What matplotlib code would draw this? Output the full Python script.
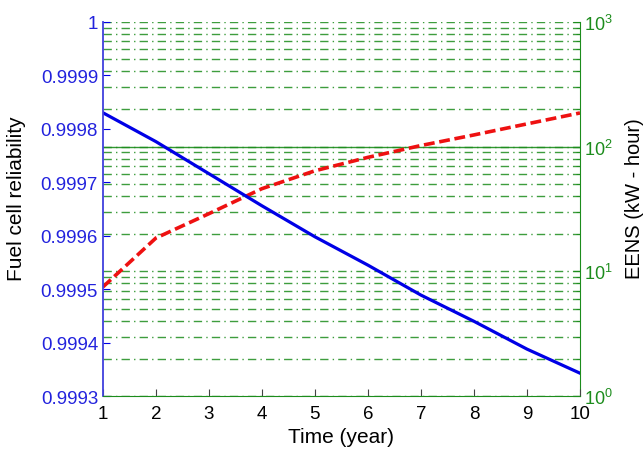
import numpy as np
import matplotlib
matplotlib.use("Agg")
import matplotlib.pyplot as plt
from matplotlib.ticker import FixedLocator, FuncFormatter, LogLocator

plt.rcParams['font.family'] = ['Liberation Sans', 'DejaVu Sans']

# data
years = [1, 2, 3, 4, 5, 6, 7, 8, 9, 10]
reliability = [0.99983, 0.999776, 0.999716, 0.999656, 0.999598,
               0.999545, 0.999489, 0.99944, 0.999388, 0.999343]
eens = [7.5, 18.5, 29, 46, 64, 82, 102, 124, 152, 186]

rel_ticks = [0.9993, 0.9994, 0.9995, 0.9996, 0.9997, 0.9998, 0.9999, 1.0]

blue = '#0000e6'
tick_blue = '#2222dd'
green = '#1c8c1c'
red = '#ee1111'

fig = plt.figure(figsize=(6.43, 4.56), dpi=100)
ax = fig.add_axes([0.160, 0.129, 0.742, 0.821])
ax2 = ax.twinx()

# left axis drawn above the log grid
ax.set_zorder(ax2.get_zorder() + 1)
ax.patch.set_visible(False)

# right log axis with its grid
ax2.set_yscale('log')
ax2.set_ylim(1, 1000)
ax2.yaxis.set_major_locator(LogLocator(base=10))
ax2.yaxis.set_minor_locator(LogLocator(base=10, subs=np.arange(2, 10)))
ax2.grid(which='both', axis='y', color=green, alpha=0.85, lw=1.0,
         linestyle=(0, (6, 3, 1, 3)))
ax2.axhline(100, color=green, lw=1.0, alpha=0.9)
ax2.tick_params(axis='y', which='both', direction='in', colors=green,
                labelsize=13, pad=3)
ax2.tick_params(axis='y', which='major', length=5)
ax2.tick_params(axis='y', which='minor', length=3)
for s in ['left', 'top', 'bottom']:
    ax2.spines[s].set_visible(False)
ax2.spines['right'].set_color(green)
ax2.plot(years, eens, color=red, lw=2.6, dashes=(3, 1.3))
ax2.set_ylabel('EENS (kW - hour)', fontsize=14.5, color='black')
ax2.yaxis.set_label_coords(1.094, 0.53)

# left linear axis
ax.plot(years, reliability, color=blue, lw=2.3)
ax.set_xlim(1, 10)
ax.set_ylim(0.9993, 1.0)
ax.xaxis.set_major_locator(FixedLocator(years))
ax.yaxis.set_major_locator(FixedLocator(rel_ticks))
ax.yaxis.set_major_formatter(FuncFormatter(lambda v, p: '%g' % round(v, 4)))
ax.tick_params(axis='y', direction='in', colors=blue, labelcolor=tick_blue,
               labelsize=13.5, length=5)
ax.tick_params(axis='x', direction='in', color='#444444', labelcolor='black',
               labelsize=13.5, length=5, pad=6)
ax.spines['right'].set_visible(False)
ax.spines['top'].set_visible(False)
ax.spines['left'].set_color('#4040dd')
ax.spines['left'].set_linewidth(1.3)
ax.spines['bottom'].set_color(green)
ax.set_xlabel('Time (year)', fontsize=15, labelpad=4)
ax.set_ylabel('Fuel cell reliability', fontsize=15)
ax.yaxis.set_label_coords(-0.162, 0.53)

fig.savefig('out.png', dpi=100)
